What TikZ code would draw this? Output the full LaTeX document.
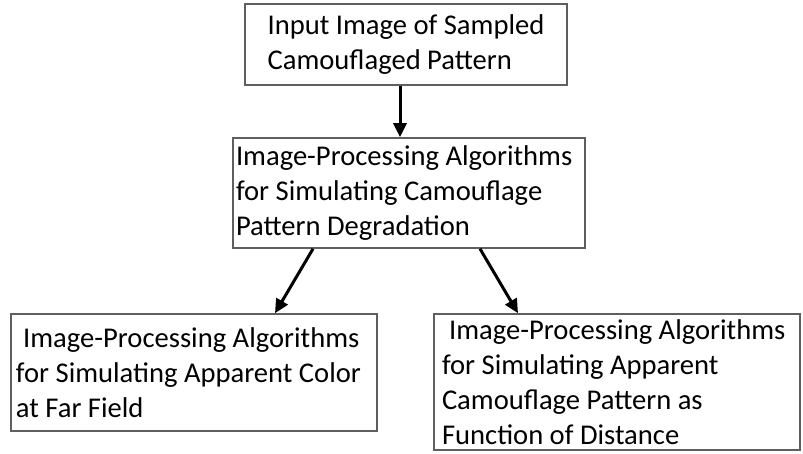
\documentclass[tikz,border=0pt]{standalone}
\usepackage{fontspec}
\setmainfont{Carlito}
\usetikzlibrary{arrows.meta}
\definecolor{boxgray}{RGB}{95,95,95}

\begin{document}
\begin{tikzpicture}[x=0.5pt, y=-0.5pt,
    stage/.style={draw=boxgray, line width=0.8pt, inner sep=0pt, align=flush left,
                  font=\fontsize{14.3}{17.4}\selectfont},
    flow/.style={-{Triangle[length=7pt,width=6.5pt]}, line width=1.5pt}]
    \useasboundingbox (0,0) rectangle (803,454);

    \node[stage, minimum width=161pt, minimum height=40.5pt] (input) at (406,44.5)
        {Input Image of Sampled\\Camouflaged Pattern};
    \node[stage, text width=173pt, inner xsep=1.5pt, minimum height=55pt] (degrade) at (409,193)
        {Image-Processing Algorithms\\for Simulating Camouflage\\Pattern Degradation};
    \node[stage, text width=178pt, inner xsep=2.5pt, minimum height=58.5pt] (color) at (194,372.5)
        {\hspace*{0.25em}Image-Processing Algorithms\\for Simulating Apparent Color\\at Far Field};
    \node[stage, text width=175pt, inner xsep=4pt, minimum height=68pt] (distance) at (617,382)
        {\hspace*{0.25em}Image-Processing Algorithms\\for Simulating Apparent\\Camouflage Pattern as\\Function of Distance};

    \draw[flow] ([xshift=-3pt]input.south) -- ([xshift=-3pt]input.south |- degrade.north);
    \draw[flow] ([xshift=-48pt]degrade.south) -- ([xshift=40.5pt]color.north);
    \draw[flow] ([xshift=35.5pt]degrade.south) -- ([xshift=-49.5pt]distance.north);
\end{tikzpicture}
\end{document}
